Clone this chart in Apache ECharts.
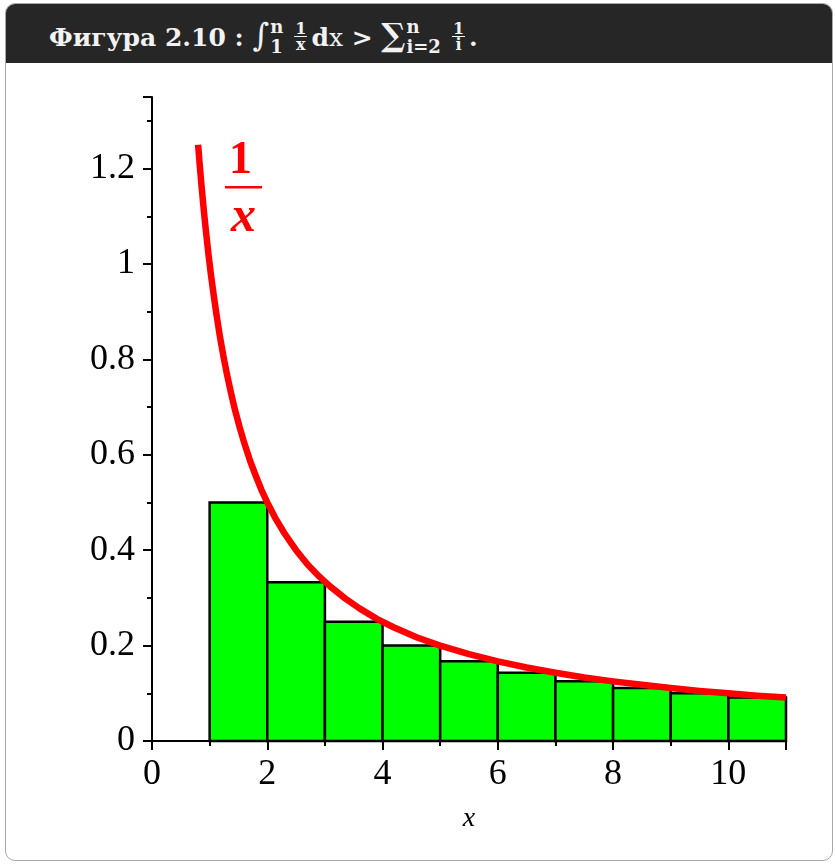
<!DOCTYPE html>
<html>
<head>
<meta charset="utf-8">
<script src="https://cdn.jsdelivr.net/npm/echarts@6/dist/echarts.min.js"></script>
<style>
  body { margin: 0; background: #fff; }
  #frame {
    position: absolute; left: 5px; top: 3px; width: 828px; height: 858px;
    border: 1.5px solid #a8a8a8; border-radius: 10px; box-sizing: border-box; overflow: hidden;
  }
  #hdr {
    position: absolute; left: 0; top: 0; right: 0; height: 59px;
    background: #262626; color: #f2f2f2;
    font-family: "DejaVu Serif", serif; font-weight: bold; font-size: 25px;
    line-height: 62px; padding-left: 43px; white-space: nowrap;
  }
  .int { font-size: 32px; font-weight: normal; }
  .lim { display: inline-block; vertical-align: middle; line-height: 20px; font-size: 18px; text-align: left; margin: 0 7px 0 1px; position: relative; top: -3px; }
  .frac { display: inline-block; vertical-align: middle; line-height: 15px; font-size: 16px; text-align: center; margin: 0 4px; position: relative; top: -3px; }
  .frac span { display: block; padding: 0 1px; }
  .frac .num { border-bottom: 1px solid #f2f2f2; }
  #chart { position: absolute; left: 0; top: 0; width: 836px; height: 865px; }
</style>
</head>
<body>
<div id="frame">
  <div id="hdr">Фигура 2.10 : <span class="int">∫</span><span class="lim">n<br>1</span><span class="frac"><span class="num">1</span><span>x</span></span>d<span style="font-weight:normal">x</span> &gt; <span style="font-size:32px">∑</span><span class="lim">n<br>i=2</span><span class="frac"><span class="num">1</span><span>i</span></span>.</div>
</div>
<div id="chart"></div>
<script>
// bars: left edge and height of each step
const barStart = [1, 2, 3, 4, 5, 6, 7, 8, 9, 10];
const barHeight = [0.5, 0.333, 0.25, 0.2, 0.167, 0.143, 0.125, 0.111, 0.1, 0.091];

// red curve, points
const curveX = [0.8, 0.83, 0.86, 0.9, 0.94, 0.98, 1.02, 1.07, 1.12, 1.18, 1.24, 1.3, 1.37, 1.44, 1.52, 1.6, 1.7, 1.8, 1.9, 2, 2.15, 2.3, 2.5, 2.7, 2.9, 3.1, 3.35, 3.6, 3.9, 4.2, 4.6, 5, 5.5, 6, 6.5, 7, 7.5, 8, 8.5, 9, 9.5, 10, 10.5, 11];
const curveY = [1.25, 1.205, 1.163, 1.111, 1.064, 1.02, 0.98, 0.935, 0.893, 0.847, 0.806, 0.769, 0.73, 0.694, 0.658, 0.625, 0.588, 0.556, 0.526, 0.5, 0.465, 0.435, 0.4, 0.37, 0.345, 0.323, 0.299, 0.278, 0.256, 0.238, 0.217, 0.2, 0.182, 0.167, 0.154, 0.143, 0.133, 0.125, 0.118, 0.111, 0.105, 0.1, 0.095, 0.091];

const xTickLabels = ['0', '2', '4', '6', '8', '10'];
const yTickLabels = ['0', '0.2', '0.4', '0.6', '0.8', '1', '1.2'];

const chart = echarts.init(document.getElementById('chart'));
const serif = 'Liberation Serif';

const labelStyle = { color: '#000', fontFamily: serif, fontSize: 36 };

const option = {
  animation: false,
  grid: { left: 152, right: 50, top: 97, bottom: 124 },
  xAxis: [
    {
      type: 'value', min: 0, max: 11, interval: 2,
      axisLine: { onZero: false, lineStyle: { color: '#000', width: 2 } },
      axisTick: { length: 9, lineStyle: { color: '#000', width: 2 } },
      minorTick: { show: true, splitNumber: 2, length: 5, lineStyle: { color: '#000', width: 2 } },
      axisLabel: {
        ...labelStyle, margin: 16,
        formatter: v => xTickLabels.includes(String(v)) ? String(v) : ''
      },
      splitLine: { show: false },
      name: 'x', nameLocation: 'middle', nameGap: 64,
      nameTextStyle: { color: '#000', fontFamily: serif, fontStyle: 'italic', fontSize: 28 }
    }
  ],
  yAxis: [
    {
      type: 'value', min: 0, max: 1.35, interval: 0.2,
      axisLine: { show: true, onZero: false, lineStyle: { color: '#000', width: 2 } },
      axisTick: { show: true, length: 9, lineStyle: { color: '#000', width: 2 } },
      minorTick: { show: true, splitNumber: 2, length: 5, lineStyle: { color: '#000', width: 2 } },
      axisLabel: {
        ...labelStyle, margin: 17,
        formatter: v => yTickLabels.includes(String(+v.toFixed(2))) ? String(+v.toFixed(2)) : ''
      },
      splitLine: { show: false }
    }
  ],
  graphic: [
    { type: 'text', left: 229, top: 138, style: { text: '1', fill: '#ff0000', font: 'bold 46px "Liberation Serif"' } },
    { type: 'rect', shape: { x: 225, y: 186, width: 37, height: 2.5 }, style: { fill: '#ff0000' } },
    { type: 'text', left: 231, top: 193, style: { text: 'x', fill: '#ff0000', font: 'italic bold 50px "Liberation Serif"' } }
  ],
  series: [
    {
      type: 'custom',
      data: barStart.map((x, i) => [x, barHeight[i]]),
      renderItem: (params, api) => {
        const x0 = api.value(0);
        const h = api.value(1);
        const p0 = api.coord([x0, h]);
        const p1 = api.coord([x0 + 1, 0]);
        return {
          type: 'rect',
          shape: { x: p0[0], y: p0[1], width: p1[0] - p0[0], height: p1[1] - p0[1] },
          style: { fill: '#00ff00', stroke: '#000', lineWidth: 2.5 }
        };
      },
      z: 2
    },
    {
      type: 'line',
      data: curveX.map((x, i) => [x, curveY[i]]),
      smooth: false,
      symbol: 'none',
      lineStyle: { color: '#ff0000', width: 6.5, join: 'round' },
      z: 3
    }
  ]
};

chart.setOption(option);
</script>
</body>
</html>
